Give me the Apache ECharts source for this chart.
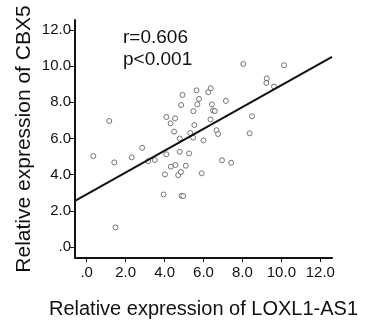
<!DOCTYPE html>
<html>
<head>
<meta charset="utf-8">
<script src="https://cdn.jsdelivr.net/npm/echarts@6/dist/echarts.min.js"></script>
<style>
html,body{margin:0;padding:0;background:#fff;}
#chart{width:377px;height:327px;}
</style>
</head>
<body>
<div id="chart"></div>
<script>
// LOXL1-AS1 relative expression (x)
const loxl1 = [0.34,1.16,1.42,1.48,2.31,2.85,3.16,3.50,3.95,4.02,4.09,4.09,4.32,4.56,4.54,4.31,4.49,4.70,4.84,4.87,4.96,4.78,4.78,4.85,4.92,5.09,5.26,5.32,5.47,5.53,5.48,5.64,5.77,5.68,5.91,6.00,6.24,6.37,6.43,6.49,6.58,6.36,6.67,6.75,6.95,7.15,7.42,8.04,8.37,8.49,9.25,9.23,9.62,10.14];
// CBX5 relative expression (y)
const cbx5 = [5.03,6.97,4.68,1.09,4.96,5.49,4.75,4.81,2.91,4.02,5.13,7.19,4.45,4.54,7.12,6.84,6.38,3.98,4.15,2.84,2.82,5.27,6.00,7.85,8.41,4.50,5.18,6.31,6.05,6.75,7.51,8.66,8.19,7.89,4.08,5.90,8.56,8.78,7.89,7.55,7.52,7.06,6.46,6.25,4.80,8.08,4.66,10.12,6.29,7.23,9.32,9.07,8.87,10.05];
const xTicks = [0,2,4,6,8,10,12];
const yTicks = [0,2,4,6,8,10,12];
const fitIntercept = 2.92;
const fitSlope = 0.603;
const statLines = ['r=0.606','p<0.001'];
const xTitle = 'Relative expression of LOXL1-AS1';
const yTitle = 'Relative expression of CBX5';

const xMin = -0.6, xMax = 12.6, yMin = -0.6, yMax = 12.55;
const points = loxl1.map((x,i)=>[x,cbx5[i]]);
const fitLine = [[xMin, fitIntercept + fitSlope*xMin],[xMax, fitIntercept + fitSlope*xMax]];
const fmt = v => v === 0 ? '.0' : v.toFixed(1);
const font = '"Liberation Sans", Arial, sans-serif';

const chart = echarts.init(document.getElementById('chart'));
chart.setOption({
  animation:false,
  backgroundColor:'#fff',
  grid:{left:75,right:45,top:20,bottom:69},
  xAxis:{
    type:'value',min:xMin,max:xMax,
    name:xTitle,nameLocation:'middle',nameGap:41,nameMoveOverlap:false,
    nameTextStyle:{fontFamily:font,fontSize:20,color:'#111'},
    axisLine:{show:true,onZero:false,lineStyle:{color:'#111',width:2}},
    axisTick:{show:true,customValues:xTicks,length:4,lineStyle:{color:'#111',width:1}},
    axisLabel:{customValues:xTicks,formatter:fmt,fontFamily:font,fontSize:15,color:'#111',margin:7},
    splitLine:{show:false}
  },
  yAxis:{
    type:'value',min:yMin,max:yMax,
    name:yTitle,nameLocation:'middle',nameGap:40,nameMoveOverlap:false,
    nameTextStyle:{fontFamily:font,fontSize:21,color:'#111'},
    axisLine:{show:true,onZero:false,lineStyle:{color:'#111',width:2}},
    axisTick:{show:true,customValues:yTicks,length:5,lineStyle:{color:'#111',width:1}},
    axisLabel:{customValues:yTicks,formatter:fmt,fontFamily:font,fontSize:15,color:'#111',margin:4},
    splitLine:{show:false}
  },
  series:[
    {
      type:'scatter',data:points,symbol:'circle',symbolSize:5,
      itemStyle:{color:'#fff',borderColor:'#555',borderWidth:1}
    },
    {
      type:'line',data:fitLine,symbol:'none',z:3,
      lineStyle:{color:'#111',width:2}
    }
  ],
  graphic:[
    {type:'text',left:123,top:28,style:{text:statLines[0],fontFamily:font,fontSize:19,fill:'#111'}},
    {type:'text',left:123,top:50,style:{text:statLines[1],fontFamily:font,fontSize:19,fill:'#111'}}
  ]
});
</script>
</body>
</html>
